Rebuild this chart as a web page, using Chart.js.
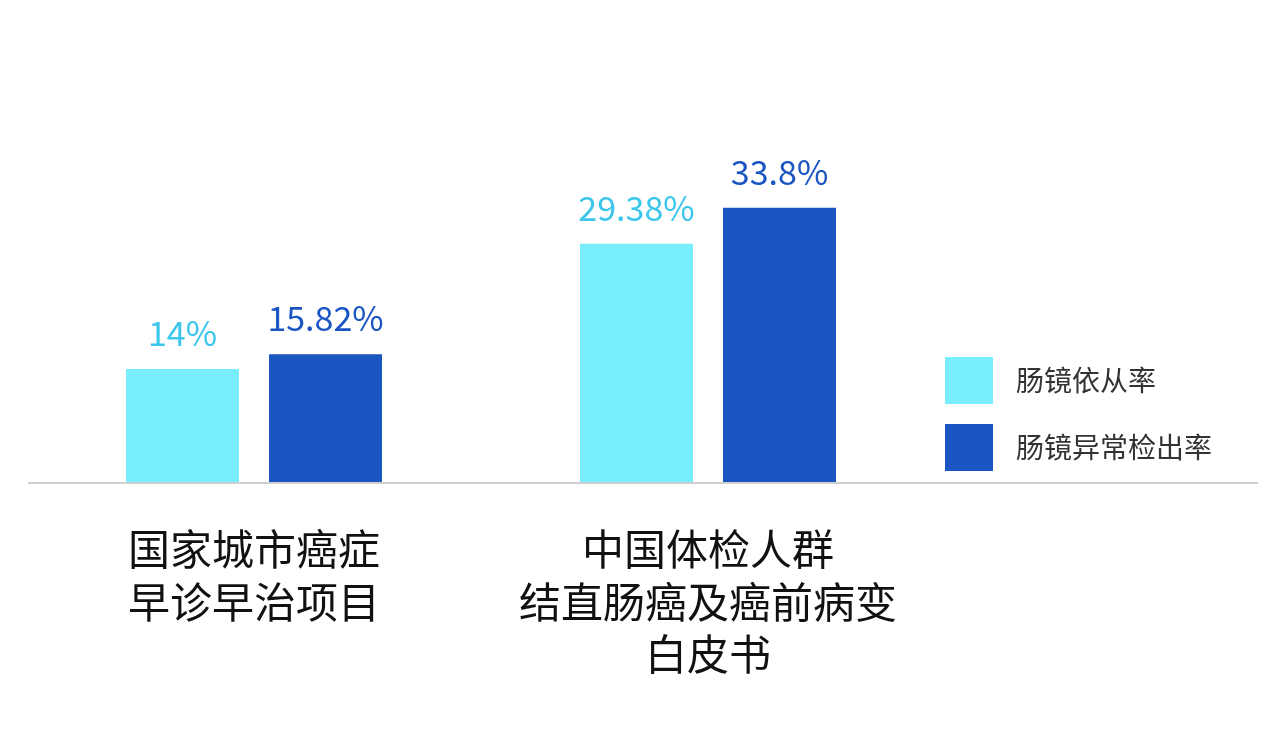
<!DOCTYPE html>
<html><head><meta charset="utf-8">
<script src="https://cdn.jsdelivr.net/npm/chart.js@4"></script>
<style>html,body{margin:0;background:#fff}#w{width:1269px;height:749px;position:relative}</style>
</head><body><div id="w"><canvas id="c"></canvas></div>
<script>
const categories = [["国家城市癌症","早诊早治项目"],["中国体检人群","结直肠癌及癌前病变","白皮书"]];
const seriesNames = ["肠镜依从率","肠镜异常检出率"];
const compliance = [14, 29.38];
const abnormal = [15.82, 33.8];
const valueLabels = [["14%","29.38%"],["15.82%","33.8%"]];
const colors = ["#78eefc","#1a55c2"];
const labelColors = ["#3cc6ec","#1a55c2"];
const FONT = "'Noto Sans CJK SC','Noto Sans',sans-serif";

const extras = {
  id:'extras',
  afterDatasetsDraw(chart){
    const ctx = chart.ctx, y0 = chart.scales.y.getPixelForValue(0);
    ctx.save();
    ctx.strokeStyle="#cfcfcf"; ctx.lineWidth=2;
    ctx.beginPath(); ctx.moveTo(28,y0); ctx.lineTo(1258,y0); ctx.stroke();
    ctx.textAlign="center"; ctx.textBaseline="middle"; ctx.font="34px "+FONT;
    chart.data.datasets.forEach((ds,i)=>{
      chart.getDatasetMeta(i).data.forEach((bar,j)=>{
        ctx.fillStyle=labelColors[i];
        ctx.fillText(valueLabels[i][j], bar.x, bar.y-36);
      });
    });
    ctx.textAlign="left"; ctx.font="28px "+FONT;
    seriesNames.forEach((n,i)=>{
      const top = 357+i*67;
      ctx.fillStyle=colors[i]; ctx.fillRect(945,top,48,47);
      ctx.fillStyle="#333"; ctx.fillText(n,1016,top+23);
    });
    ctx.restore();
  }
};

new Chart(document.getElementById('c'),{
  type:'bar',
  data:{labels:categories,datasets:[
    {label:seriesNames[0],data:compliance,backgroundColor:colors[0]},
    {label:seriesNames[1],data:abnormal,backgroundColor:colors[1]}
  ]},
  options:{
    responsive:true,maintainAspectRatio:false,animation:false,
    datasets:{bar:{categoryPercentage:0.63,barPercentage:0.79}},
    layout:{padding:{top:76,left:27,right:334,bottom:0}},
    plugins:{legend:{display:false},tooltip:{enabled:false}},
    scales:{
      y:{display:false,min:0,max:50},
      x:{grid:{display:false},border:{display:false},
         ticks:{color:"#111",font:{family:FONT,size:42,lineHeight:1.25},padding:32,maxRotation:0,autoSkip:false},
         afterFit(s){s.height=266;}}
    }
  },
  plugins:[extras]
});
</script></body></html>
